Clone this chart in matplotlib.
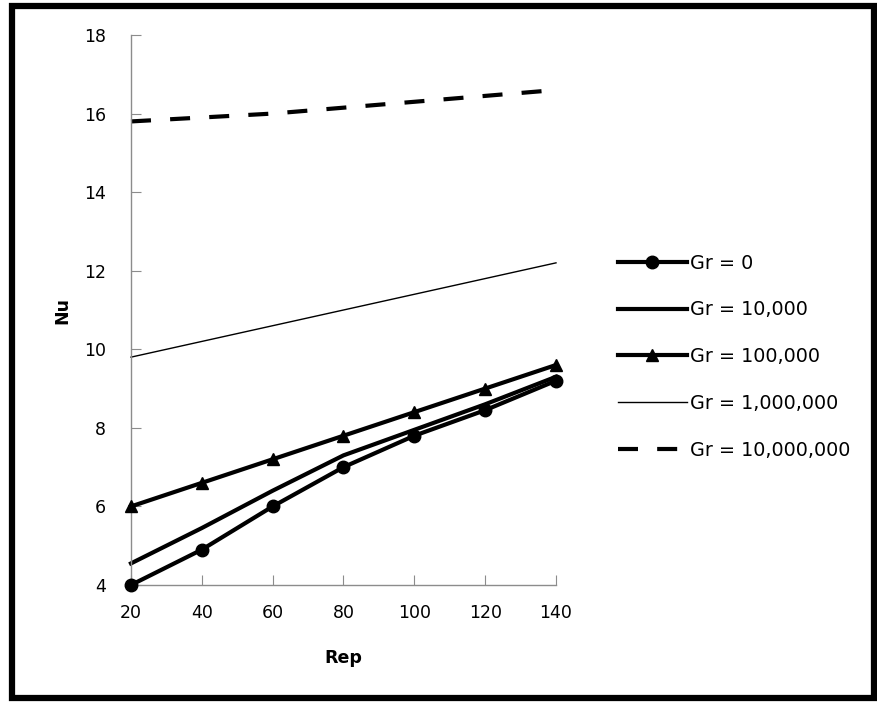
import matplotlib
matplotlib.use("Agg")
import matplotlib.pyplot as plt
from matplotlib.patches import Rectangle

# data
rep = [20, 40, 60, 80, 100, 120, 140]
nu_gr0 = [4.0, 4.9, 6.0, 7.0, 7.8, 8.45, 9.2]
nu_gr1e4 = [4.55, 5.45, 6.4, 7.3, 7.95, 8.6, 9.3]
nu_gr1e5 = [6.0, 6.6, 7.2, 7.8, 8.4, 9.0, 9.6]
nu_gr1e6 = [9.8, 10.2, 10.6, 11.0, 11.4, 11.8, 12.2]
nu_gr1e7 = [15.8, 15.9, 16.0, 16.15, 16.3, 16.45, 16.6]
labels = ["Gr = 0", "Gr = 10,000", "Gr = 100,000", "Gr = 1,000,000", "Gr = 10,000,000"]
y_ticks = [4, 6, 8, 10, 12, 14, 16, 18]

plt.rcParams['font.family'] = ['DejaVu Sans']
fs = 12.5

fig = plt.figure(figsize=(8.78, 7.04), dpi=100)
ax = fig.add_axes([131/878, 1 - 585/704, (556 - 131)/878, (585 - 35)/704])

ax.plot(rep, nu_gr0, color='black', lw=3, marker='o', ms=9, label=labels[0], clip_on=False, zorder=5)
ax.plot(rep, nu_gr1e4, color='black', lw=3, label=labels[1], clip_on=False)
ax.plot(rep, nu_gr1e5, color='black', lw=3, marker='^', ms=9, label=labels[2], clip_on=False, zorder=5)
ax.plot(rep, nu_gr1e6, color='black', lw=1, label=labels[3], clip_on=False)
ax.plot(rep, nu_gr1e7, color='black', lw=3, dashes=(4.8, 4.6), label=labels[4], clip_on=False)

ax.set_xlim(20, 140)
ax.set_ylim(4, 18)
ax.set_xticks(rep)
ax.set_yticks(y_ticks)
for s in ['top', 'right']:
    ax.spines[s].set_visible(False)
for s in ['left', 'bottom']:
    ax.spines[s].set_color('#8c8c8c')
    ax.spines[s].set_linewidth(1)
ax.tick_params(axis='both', direction='in', length=7, color='#8c8c8c', labelsize=fs)
ax.tick_params(axis='x', pad=14)
ax.tick_params(axis='y', pad=18)

ax.set_xlabel('Rep', fontsize=fs, fontweight='bold', labelpad=19)
ax.set_ylabel('Nu', fontsize=fs, fontweight='bold', labelpad=9)

leg = ax.legend(loc='upper left', bbox_to_anchor=(608/878, 1 - 244/704), bbox_transform=fig.transFigure,
                frameon=False, fontsize=13.8, handlelength=3.6, handletextpad=0.2,
                labelspacing=1.45, borderpad=0)

# outer black frame
fig.patches.append(Rectangle((12/878, 6/704), 862/878, 692/704, transform=fig.transFigure,
                             fill=False, edgecolor='black', lw=4.5))

fig.savefig('out.png', dpi=100)
